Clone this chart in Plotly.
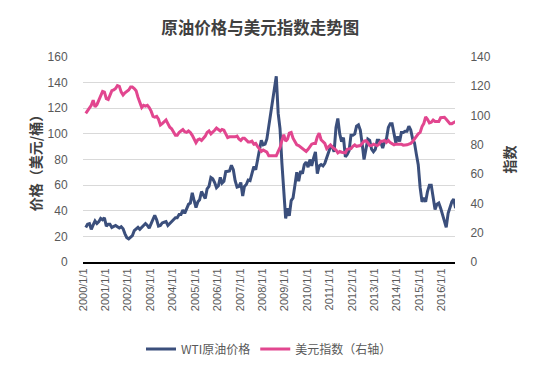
import pandas as pd
import plotly.graph_objects as go

dates = pd.date_range("2000-01-15", "2016-08-15", freq="MS") + pd.Timedelta(days=14)

wti = [
    27, 29.5, 30, 25.5, 29, 32, 30, 31.5, 34, 33, 34.5, 28,
    29.5, 29.5, 27, 27.5, 28.5, 27.5, 26.5, 27.5, 26, 22, 19, 18,
    19.5, 20.5, 24.5, 26, 27, 25.5, 27, 28.5, 30, 28.5, 26.5, 30,
    33, 36.5, 33, 28, 28.5, 30.5, 31, 31.5, 28.5, 30, 31, 32.5,
    34.5, 34.5, 37, 37, 40.5, 38, 41, 45, 46, 54, 48, 42.5,
    47, 48.5, 55, 52.5, 49.5, 57, 59, 66, 65, 62, 58, 59.5,
    66, 61.5, 63, 70.5, 70.5, 71, 75.5, 72, 63.5, 58.5, 59, 62,
    51.5, 59, 60.5, 64, 63.5, 68, 74.5, 72, 80, 87, 95, 91.5,
    92, 96, 106, 114, 126, 136, 145, 116, 104, 77, 56, 34,
    42, 36, 48, 50, 60, 70, 63, 71, 69, 76, 78, 74,
    80, 75, 81, 86, 69, 75, 76, 75, 77, 82, 85, 90,
    90, 86, 105, 112, 100, 94, 97, 82, 84, 87, 99, 99,
    100, 106, 107, 103, 92, 80, 88, 96, 95, 88, 86, 88,
    95, 95, 93, 89, 94, 96, 105, 108, 108, 100, 93, 98,
    94, 101, 101, 102, 102, 106, 103, 96, 93, 84, 76, 58,
    47, 50, 47, 55, 60, 60, 51, 41, 45, 46, 42, 37,
    31, 27, 38, 42, 47, 49, 42, 46,
]

usd = [
    101.5, 103.5, 105, 107, 110.5, 106, 107.5, 110.5, 113, 116.5, 116, 111.5,
    111, 114, 117, 117.5, 118.5, 120.5, 120, 116, 114, 115.5, 116.5, 117.5,
    119.5, 119.5, 118.5, 117, 112.5, 108.5, 105.5, 107, 106.5, 107, 105.5, 103,
    99.5, 99, 99.5, 97.5, 93.5, 94.5, 95.5, 97, 94.5, 92, 91, 88.5,
    86.5, 86.5, 88.5, 89.5, 90.5, 89, 88.5, 89.5, 88.5, 86.5, 83.5, 81.5,
    83.5, 84, 83, 84.5, 86, 88.5, 89.5, 87.5, 88.5, 90, 91.5, 90.5,
    89.5, 90.5, 90, 87.5, 85, 85.5, 85.5, 85, 85.5, 86, 84, 83,
    84.5, 84.5, 83.5, 82, 82, 82.5, 80.5, 81, 79, 77.5, 75.5, 76.5,
    75.5, 75, 72.5, 72.5, 72.8, 72.8, 72.5, 75.5, 78, 83, 87, 82.5,
    84, 88, 88.5, 84.5, 82, 80, 79.5, 78.5, 77, 76, 75.5, 77,
    78.5, 80.5, 81, 81, 85.5, 88, 83.5, 82, 81, 77.5, 78.5, 80,
    78.5, 77.5, 76.5, 74.5, 75.5, 75, 74.8, 74.5, 77, 77.5, 77.5, 79,
    80, 79, 79.5, 79.5, 81, 82.5, 82.8, 81.5, 79.5, 79.5, 80.5, 80,
    79.5, 80.5, 82.5, 82.5, 83, 81.7, 83, 81.5, 81, 80, 80.5, 80.5,
    80.8, 80.5, 79.8, 79.8, 80, 80.5, 81, 82.3, 84.5, 85.8, 87.5, 88.5,
    92.5, 94.5, 99, 97.5, 95, 95.5, 97, 96, 96, 96, 98.5, 98.5,
    98.8, 97.5, 96, 94.5, 94.5, 95.5, 96, 95.5,
]

years = list(range(2000, 2017))
tick_vals = [f"{y}-01-01" for y in years]
tick_text = [f"{y}/1/1" for y in years]

WTI_COLOR = "#3B4F7C"
USD_COLOR = "#E2468F"
CJK = "Noto Sans CJK SC, sans-serif"

fig = go.Figure()
fig.add_trace(go.Scatter(x=dates, y=wti, name="WTI原油价格", mode="lines",
                         line=dict(color=WTI_COLOR, width=3), yaxis="y"))
fig.add_trace(go.Scatter(x=dates, y=usd, name="美元指数（右轴）", mode="lines",
                         line=dict(color=USD_COLOR, width=3), yaxis="y2"))

fig.update_layout(
    width=539, height=371,
    margin=dict(l=83, r=84, t=57, b=109),
    paper_bgcolor="white", plot_bgcolor="white",
    font=dict(family="Liberation Sans, " + CJK, color="#595959", size=12),
    title=dict(text="<b>原油价格与美元指数走势图</b>", x=0.483, xanchor="center",
               y=1 - 28 / 371, yanchor="middle",
               font=dict(size=16.5, color="#404040", family=CJK)),
    showlegend=True,
    legend=dict(orientation="h", x=0.5, xanchor="center", yref="container",
                y=1 - 349 / 371, yanchor="middle",
                font=dict(size=12, color="#595959", family=CJK),
                itemwidth=30, tracegroupgap=0),
    xaxis=dict(type="date", range=["2000-01-01", "2016-08-05"],
               tickmode="array", tickvals=tick_vals, ticktext=tick_text,
               tickangle=-90, tickfont=dict(size=11, color="#595959"),
               showgrid=False, showline=True, linecolor="#000000", linewidth=2,
               ticks="", zeroline=False),
    yaxis=dict(range=[0, 160], dtick=20, showgrid=True, gridcolor="#D9D9D9",
               gridwidth=1, zeroline=False, showline=False,
               ticks="outside", ticklen=12, tickcolor="rgba(0,0,0,0)",
               tickfont=dict(size=12, color="#595959"),
               title=dict(text="<b>价格（美元/桶）</b>", standoff=2,
                          font=dict(size=14, color="#404040", family=CJK))),
    yaxis2=dict(range=[0, 140], dtick=20, overlaying="y", side="right",
                showgrid=False, zeroline=False, showline=False,
                ticks="outside", ticklen=12, tickcolor="rgba(0,0,0,0)",
                tickfont=dict(size=12, color="#595959"),
                title=dict(text="<b>指数</b>", standoff=15,
                           font=dict(size=14, color="#404040", family=CJK))),
)

fig.write_html("out.html", config={"displayModeBar": False},
               post_script="document.body.style.margin='0';")
